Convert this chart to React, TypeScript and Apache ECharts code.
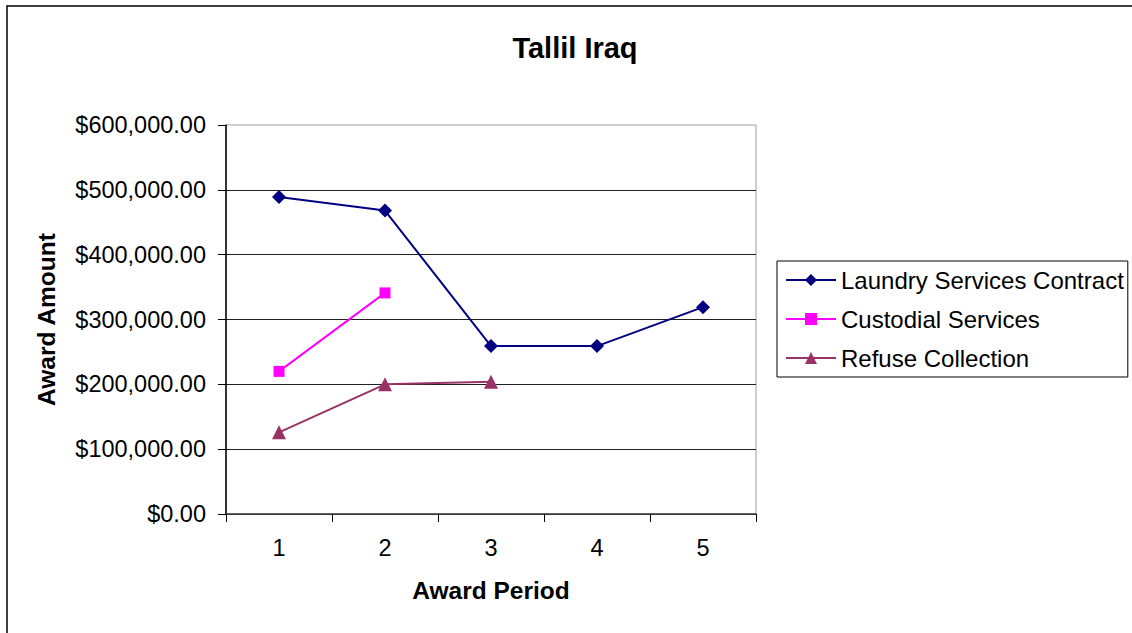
import React, { useEffect, useRef } from "react";
import * as echarts from "echarts";

const categories = ["1", "2", "3", "4", "5"];
const laundry = [489000, 468000, 259000, 259000, 319000];
const custodial = [220000, 341000, null, null, null];
const refuse = [126000, 200000, 204000, null, null];
const yTicks = { min: 0, max: 600000, interval: 100000 };

const FONT = "'Liberation Sans', Arial, sans-serif";

export default function App() {
  const ref = useRef<HTMLDivElement>(null);
  useEffect(() => {
    document.body.style.margin = "0";
    const chart = echarts.init(ref.current!, null, { renderer: "svg" });
    chart.setOption({
      animation: false,
      backgroundColor: "#ffffff",
      textStyle: { fontFamily: FONT },
      title: {
        text: "Tallil Iraq",
        left: 570,
        top: 28,
        textAlign: "center",
        textStyle: { fontFamily: FONT, fontSize: 29, fontWeight: "bold", color: "#000" },
      },
      graphic: [
        {
          type: "rect",
          shape: { x: 7, y: 6, width: 1300, height: 800 },
          style: { fill: "none", stroke: "#000", lineWidth: 1.5 },
          silent: true,
        },
      ],
      grid: {
        left: 226,
        right: 376,
        top: 125,
        bottom: 119,
        show: true,
        borderColor: "#a0a0a0",
        borderWidth: 1,
      },
      legend: {
        orient: "vertical",
        left: 777,
        top: 261,
        width: 353,
        borderColor: "#000",
        borderWidth: 1,
        padding: [7, 4, 7, 8],
        itemWidth: 50,
        itemHeight: 15,
        itemGap: 15,
        textStyle: { fontFamily: FONT, fontSize: 24, color: "#000" },
        data: ["Laundry Services Contract", "Custodial Services", "Refuse Collection"],
      },
      xAxis: {
        type: "category",
        data: categories,
        boundaryGap: true,
        name: "Award Period",
        nameLocation: "middle",
        nameGap: 64,
        nameTextStyle: { fontFamily: FONT, fontSize: 24.5, fontWeight: "bold", color: "#000" },
        axisLine: { lineStyle: { color: "#404040", width: 1.5 } },
        axisTick: { show: true, length: 8, inside: false, lineStyle: { color: "#000" } },
        axisLabel: { fontFamily: FONT, fontSize: 23.5, color: "#000", margin: 22 },
        splitLine: { show: false },
      },
      yAxis: {
        type: "value",
        min: yTicks.min,
        max: yTicks.max,
        interval: yTicks.interval,
        name: "Award Amount",
        nameLocation: "middle",
        nameGap: 167,
        nameTextStyle: { fontFamily: FONT, fontSize: 24.5, fontWeight: "bold", color: "#000" },
        axisLine: { show: true, lineStyle: { color: "#000", width: 1.5 } },
        axisTick: { show: true, length: 8, inside: false, lineStyle: { color: "#000" } },
        axisLabel: {
          fontFamily: FONT,
          fontSize: 23.5,
          color: "#000",
          margin: 20,
          formatter: (v: number) =>
            "$" + v.toLocaleString("en-US", { minimumFractionDigits: 2, maximumFractionDigits: 2 }),
        },
        splitLine: { show: true, showMaxLine: false, lineStyle: { color: "#202020", width: 1 } },
      },
      series: [
        {
          name: "Laundry Services Contract",
          type: "line",
          data: laundry,
          symbol: "diamond",
          symbolSize: 14,
          color: "#000080",
          lineStyle: { color: "#000080", width: 2 },
          itemStyle: { color: "#000080" },
        },
        {
          name: "Custodial Services",
          type: "line",
          data: custodial,
          symbol: "rect",
          symbolSize: 11,
          color: "#ff00ff",
          lineStyle: { color: "#ff00ff", width: 2 },
          itemStyle: { color: "#ff00ff" },
        },
        {
          name: "Refuse Collection",
          type: "line",
          data: refuse,
          symbol: "triangle",
          symbolSize: 14,
          color: "#993366",
          lineStyle: { color: "#993366", width: 2 },
          itemStyle: { color: "#993366" },
        },
      ],
    });
    return () => chart.dispose();
  }, []);
  return <div ref={ref} style={{ width: 1132, height: 633 }} />;
}
